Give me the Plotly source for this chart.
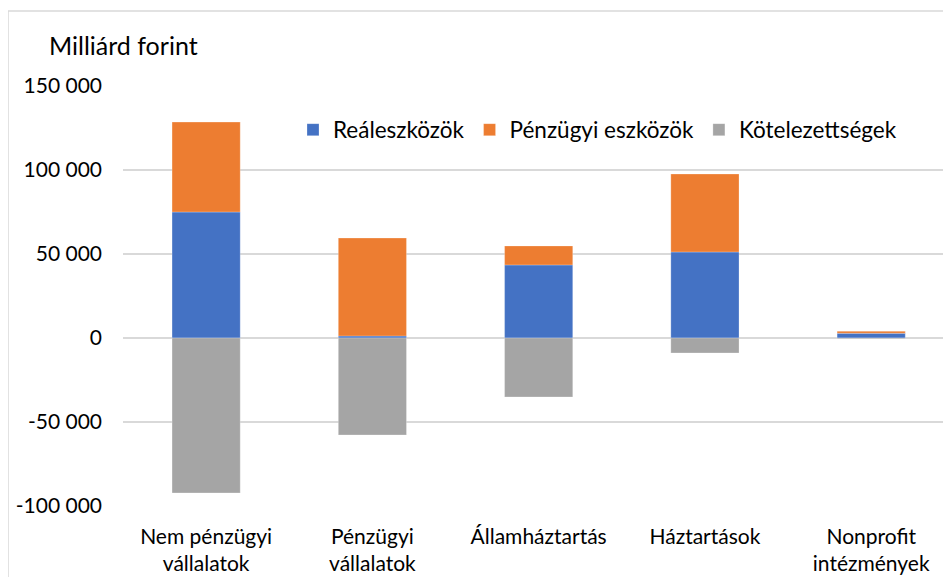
import plotly.graph_objects as go

categories = ["Nem pénzügyi<br>vállalatok", "Pénzügyi<br>vállalatok", "Államháztartás", "Háztartások", "Nonprofit<br>intézmények"]
real_assets = [75000, 1200, 43500, 51200, 2800]
financial_assets = [53500, 58300, 11300, 46400, 1200]
liabilities = [-92200, -57700, -35100, -8900, -400]
tick_vals = [-100000, -50000, 0, 50000, 100000, 150000]
tick_text = ["-100 000", "-50 000", "0", "50 000", "100 000", "150 000"]

FONT = "Lato, 'Open Sans', sans-serif"
OFF = 8  # default page body margin
W, H = 951 - OFF, 577 - OFF
L, R, T = 123 - OFF, 0, 86 - OFF
BOT = 506 - OFF
B = H - BOT
pw, ph = W - L - R, BOT - T


def px(xp):
    return (xp - OFF - L) / pw


def py(yp):
    return (BOT - (yp - OFF)) / ph


fig = go.Figure()
fig.add_trace(go.Bar(name="Reáleszközök", x=categories, y=real_assets,
                     marker=dict(color="#4472C4", line=dict(color="rgba(255,255,255,0.5)", width=0.5))))
fig.add_trace(go.Bar(name="Pénzügyi eszközök", x=categories, y=financial_assets,
                     marker=dict(color="#ED7D31", line=dict(color="rgba(255,255,255,0.5)", width=0.5))))
fig.add_trace(go.Bar(name="Kötelezettségek", x=categories, y=liabilities,
                     marker=dict(color="#A5A5A5", line=dict(color="rgba(255,255,255,0.5)", width=0.5))))

fig.update_layout(
    width=W, height=H,
    margin=dict(l=L, r=R, t=T, b=B, pad=0, autoexpand=False),
    barmode="relative",
    bargap=0.59,
    paper_bgcolor="white", plot_bgcolor="white",
    font=dict(family=FONT, size=21, color="#000000"),
    showlegend=True,
    legend=dict(orientation="h", x=px(293), y=py(130), xanchor="left", yanchor="middle",
                font=dict(size=22.5), bgcolor="rgba(0,0,0,0)", traceorder="normal"),
    xaxis=dict(range=[-0.5, 4.48], showgrid=False, showline=False, ticks="", tickfont=dict(size=21),
               ticklabelstandoff=16, automargin=False),
    yaxis=dict(range=[-100000, 150000], tickvals=tick_vals, ticktext=tick_text, showgrid=True,
               gridcolor="#D9D9D9", gridwidth=1.5, zeroline=True, zerolinecolor="#D9D9D9", zerolinewidth=1.5,
               showline=False, ticks="", tickfont=dict(size=21), ticklabelstandoff=20, automargin=False),
)

fig.add_annotation(text="Milliárd forint", xref="paper", yref="paper",
                   x=px(47), y=py(45), xanchor="left", yanchor="middle",
                   showarrow=False, font=dict(size=25, family=FONT))

# chart-area border
fig.add_shape(type="rect", xref="paper", yref="paper",
              x0=px(8), x1=px(1000), y0=py(700), y1=py(11),
              line=dict(color="#D9D9D9", width=1.5), fillcolor="rgba(0,0,0,0)", layer="below")

fig.write_html("out.html")
